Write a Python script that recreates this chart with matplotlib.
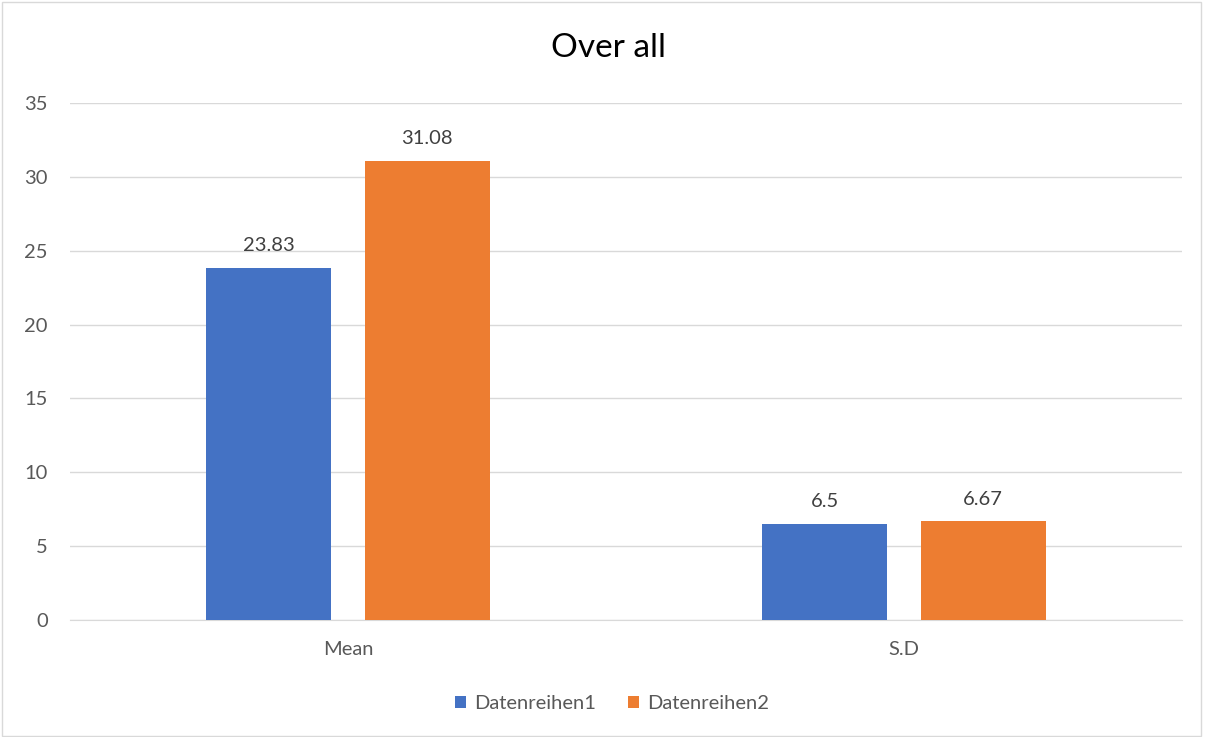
import matplotlib
matplotlib.use("Agg")
import matplotlib.pyplot as plt
import numpy as np
from matplotlib.patches import Rectangle

categories = ["Mean", "S.D"]
series_names = ["Datenreihen1", "Datenreihen2"]
series1 = [23.83, 6.5]
series2 = [31.08, 6.67]
labels1 = ["23.83", "6.5"]
labels2 = ["31.08", "6.67"]
yticks = [0, 5, 10, 15, 20, 25, 30, 35]

plt.rcParams['font.family'] = ['Lato', 'DejaVu Sans']
fig = plt.figure(figsize=(12.05, 7.37), dpi=100)
fig.patches.append(Rectangle((0.002, 0.002), 0.995, 0.995, transform=fig.transFigure,
                             fill=False, edgecolor='#d9d9d9', linewidth=1))
ax = fig.add_axes([0.058, 0.1588, 0.923, 0.7015])

x = np.arange(len(categories))
w = 0.225
off = 0.1425
b1 = ax.bar(x - off, series1, w, color='#4472c4', label=series_names[0], zorder=3)
b2 = ax.bar(x + off, series2, w, color='#ed7d31', label=series_names[1], zorder=3)
for bars, labs in ((b1, labels1), (b2, labels2)):
    for r, t in zip(bars, labs):
        ax.annotate(t, (r.get_x() + r.get_width() / 2, r.get_height()),
                    xytext=(0, 10), textcoords='offset points', ha='center', va='bottom',
                    fontsize=14.5, color='#404040')

ax.set_xlim(-0.5, 1.5)
ax.set_ylim(0, 35)
ax.set_yticks(yticks)
ax.set_xticks(x)
ax.set_xticklabels(categories)
ax.tick_params(axis='both', length=0, labelsize=14.5, labelcolor='#595959')
ax.tick_params(axis='y', pad=16)
ax.tick_params(axis='x', pad=15)
ax.grid(axis='y', color='#d9d9d9', linewidth=1, zorder=0)
for s in ['top', 'right', 'left']:
    ax.spines[s].set_visible(False)
ax.spines['bottom'].set_color('#d9d9d9')
fig.text(0.505, 0.935, "Over all", ha='center', va='center', fontsize=24, color='#000000')
fig.legend(handles=[b1, b2], loc='center', bbox_to_anchor=(0.508, 0.045), ncol=2, frameon=False,
           fontsize=14.5, handlelength=0.55, handleheight=0.55, columnspacing=1.6, handletextpad=0.4,
           labelcolor='#595959')
fig.savefig("out.png", dpi=100)
